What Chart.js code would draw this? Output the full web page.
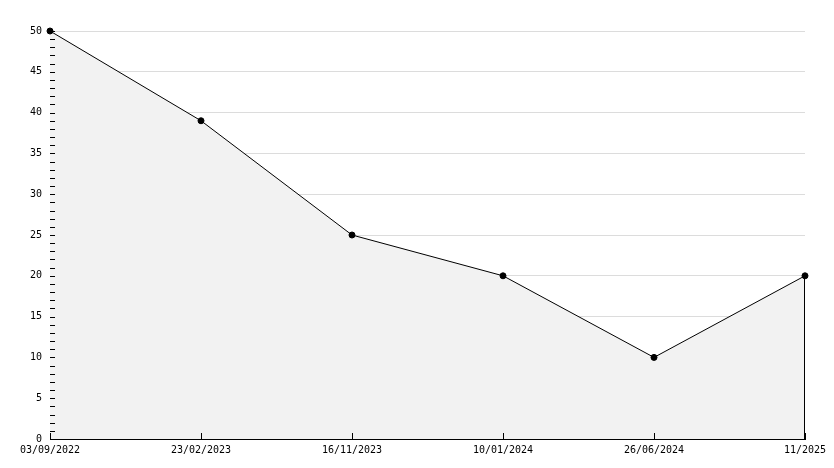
<!DOCTYPE html>
<html>
<head>
<meta charset="utf-8">
<script src="https://cdn.jsdelivr.net/npm/chart.js@4"></script>
<style>
  html, body { margin: 0; padding: 0; background: #fff; }
  #wrap { width: 834px; height: 468px; position: relative; }
</style>
</head>
<body>
<div id="wrap"><canvas id="grafica"></canvas></div>
<script>
// data
const fechas = ["03/09/2022", "23/02/2023", "16/11/2023", "10/01/2024", "26/06/2024", "11/2025"];
const valores = [50, 39, 25, 20, 10, 20];
const yMin = 0;
const yMax = 50;
const pasoMayor = 5;

// tick marks drawn inside the plot, plus the right edge of the filled area
const marcasInternas = {
  id: 'marcasInternas',
  afterDatasetsDraw(chart) {
    const ctx = chart.ctx;
    const x = chart.scales.x;
    const y = chart.scales.y;
    const area = chart.chartArea;
    ctx.save();
    ctx.strokeStyle = '#000';
    ctx.lineWidth = 1;
    ctx.beginPath();
    for (let v = yMin; v <= yMax; v++) {
      const py = Math.round(y.getPixelForValue(v)) + 0.5;
      ctx.moveTo(area.left, py);
      ctx.lineTo(area.left + 5, py);
    }
    fechas.forEach((f, i) => {
      const px = Math.round(x.getPixelForValue(i)) + 0.5;
      ctx.moveTo(px, area.bottom);
      ctx.lineTo(px, area.bottom - 6);
    });
    const ultimo = valores.length - 1;
    const pxU = Math.round(x.getPixelForValue(ultimo)) - 0.5;
    ctx.moveTo(pxU, y.getPixelForValue(valores[ultimo]));
    ctx.lineTo(pxU, area.bottom);
    ctx.stroke();
    ctx.restore();
  }
};

const ctx = document.getElementById("grafica").getContext("2d");

new Chart(ctx, {
  type: 'line',
  data: {
    labels: fechas,
    datasets: [{
      data: valores,
      borderColor: '#000',
      borderWidth: 1,
      backgroundColor: '#f2f2f2',
      fill: 'origin',
      tension: 0,
      pointRadius: 3,
      pointBackgroundColor: '#000',
      pointBorderColor: '#000',
      pointBorderWidth: 1,
      clip: false
    }]
  },
  options: {
    responsive: true,
    maintainAspectRatio: false,
    animation: false,
    layout: {
      padding: { left: 0, right: 29, top: 31, bottom: 0 }
    },
    plugins: {
      legend: { display: false },
      tooltip: { enabled: false }
    },
    scales: {
      x: {
        offset: false,
        grid: { display: false, drawTicks: false },
        border: { display: true, color: '#000', width: 1 },
        ticks: {
          color: '#000',
          font: { family: 'DejaVu Sans Mono', size: 10 },
          padding: 5,
          maxRotation: 0,
          autoSkip: false
        },
        afterFit: scale => { scale.height = 29; }
      },
      y: {
        min: yMin,
        max: yMax,
        grid: {
          drawTicks: false,
          color: c => (c.tick && c.tick.value % pasoMayor === 0 && c.tick.value !== 0) ? '#dcdcdc' : 'rgba(0,0,0,0)',
          lineWidth: 1
        },
        border: { display: true, color: '#000', width: 1 },
        ticks: {
          stepSize: 1,
          autoSkip: false,
          color: '#000',
          font: { family: 'DejaVu Sans Mono', size: 10 },
          padding: 8,
          callback: v => (v % pasoMayor === 0 ? v : '')
        },
        afterFit: scale => { scale.width = 50; }
      }
    }
  },
  plugins: [marcasInternas]
});
</script>
</body>
</html>
